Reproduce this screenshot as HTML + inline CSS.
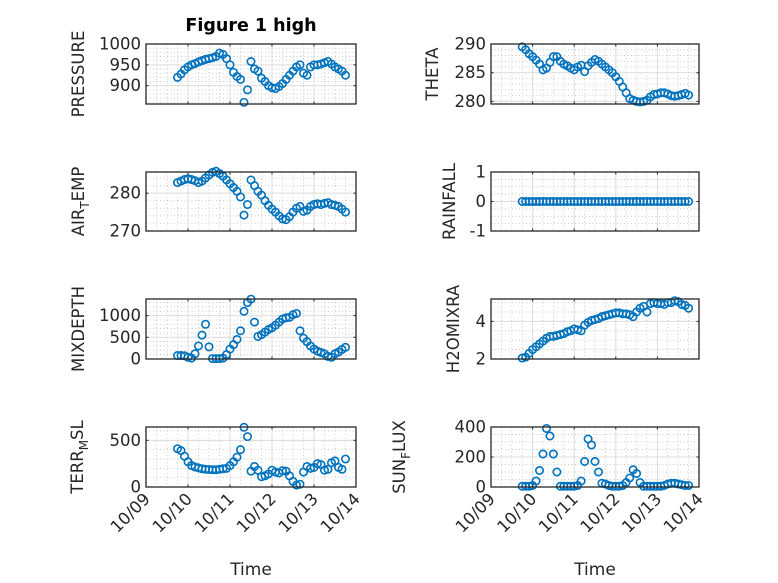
<!DOCTYPE html>
<html><head><meta charset="utf-8">
<style>
html,body{margin:0;padding:0;background:#fff;}
svg{display:block;font-family:"DejaVu Sans","Liberation Sans",sans-serif;}
</style></head>
<body>
<svg id="fig" width="778" height="583" viewBox="0 0 778 583" xmlns="http://www.w3.org/2000/svg">
<rect width="778" height="583" fill="#fff"/>
<text x="251" y="31" text-anchor="middle" font-size="17.5" font-weight="bold" fill="#000">Figure 1 high</text>
</svg>
<script>
// shared time axis: days since 10/09 00:00, 2-hour samples
const startDay = 0.75;
const stepDay = 2/24;
const xTickLabels = ["10/09","10/10","10/11","10/12","10/13","10/14"];

const pressure = [920,928,938,945,950,953,957,960,963,965,967,970,978,975,965,950,932,922,915,860,890,958,940,935,918,910,900,895,893,898,905,915,925,935,945,950,930,925,945,950,950,952,955,958,952,945,940,935,925];
const theta = [289.5,289,288.3,287.8,287.2,286.5,285.5,285.8,286.8,287.8,287.8,287,286.5,286.2,285.8,285.5,286,286.3,285.2,286.2,286.8,287.3,287,286.5,286,285.5,285,284.3,283.5,282.5,281.5,280.5,280.2,280,279.9,280,280.2,280.8,281.2,281.3,281.5,281.5,281.3,281,280.9,281,281.2,281.4,281.1];
const airTemp = [282.8,283.2,283.6,283.8,283.6,283.3,282.8,283.2,284,284.8,285.5,285.8,285.2,284.5,283.5,282.5,281.5,280.5,279,274.2,277,283.5,282,280.5,279.5,278,276.8,275.8,275,274,273.2,273,273.8,275,276,276.5,275.2,275.5,276.5,277,277.2,277,277.3,277.5,277,276.8,276.5,275.8,275];
const rainfall = [0,0,0,0,0,0,0,0,0,0,0,0,0,0,0,0,0,0,0,0,0,0,0,0,0,0,0,0,0,0,0,0,0,0,0,0,0,0,0,0,0,0,0,0,0,0,0,0,0];
const mixDepth = [80,80,75,40,20,120,300,550,800,280,10,10,10,20,100,230,330,450,650,1100,1300,1380,850,520,560,620,680,720,780,850,920,950,960,1020,1050,650,480,400,300,230,180,150,120,60,40,120,160,220,270];
const h2oMix = [2.05,2.1,2.3,2.5,2.65,2.8,2.95,3.1,3.2,3.2,3.25,3.3,3.35,3.45,3.5,3.6,3.55,3.5,3.8,3.95,4.05,4.1,4.15,4.25,4.3,4.35,4.4,4.45,4.45,4.4,4.4,4.35,4.25,4.5,4.7,4.8,4.5,4.95,5.0,4.95,4.95,4.9,5.0,5.0,5.1,5.05,4.9,4.85,4.7];
const terrMsl = [410,390,330,270,230,215,205,195,190,188,185,185,190,195,200,230,270,320,400,640,540,170,220,180,110,120,140,180,160,150,175,170,120,60,20,30,160,220,200,210,250,240,180,190,260,280,210,190,300];
const sunFlux = [5,5,5,10,40,110,220,390,340,220,100,5,5,5,5,5,10,40,170,320,280,170,100,25,20,10,5,5,5,10,30,60,115,90,30,5,5,5,5,5,5,10,20,25,25,20,15,10,10];

const pressureTicks = [900,950,1000];
const thetaTicks = [280,285,290];
const airTicks = [270,280];
const rainTicks = [-1,0,1];
const mixTicks = [0,500,1000];
const h2oTicks = [2,4];
const terrTicks = [0,500];
const sunTicks = [0,200,400];

const NS = "http://www.w3.org/2000/svg";
const svg = document.getElementById("fig");
function mk(tag, attrs, parent){
  const e = document.createElementNS(NS, tag);
  for (const k in attrs) e.setAttribute(k, attrs[k]);
  (parent||svg).appendChild(e);
  return e;
}

const panels = [
 {name:"pressure", data:pressure, ticks:pressureTicks, ymin:856, ymax:1000, minor:10, x0:146, x1:356, y0:44, y1:104, label:["PRESSURE"], lx:84, showX:false},
 {name:"theta", data:theta, ticks:thetaTicks, ymin:279.55, ymax:290, minor:1, x0:491, x1:699, y0:44, y1:104, label:["THETA"], lx:438, showX:false},
 {name:"air-temp", data:airTemp, ticks:airTicks, ymin:270, ymax:285.6, minor:2, x0:146, x1:356, y0:172, y1:231, label:["AIR","T","EMP"], lx:84, showX:false},
 {name:"rainfall", data:rainfall, ticks:rainTicks, ymin:-1, ymax:1, minor:0.25, x0:491, x1:699, y0:172, y1:231, label:["RAINFALL"], lx:455, showX:false},
 {name:"mixdepth", data:mixDepth, ticks:mixTicks, ymin:0, ymax:1383, minor:100, x0:146, x1:356, y0:299, y1:359, label:["MIXDEPTH"], lx:84, showX:false},
 {name:"h2omixra", data:h2oMix, ticks:h2oTicks, ymin:2, ymax:5.19, minor:0.5, x0:491, x1:699, y0:299, y1:359, label:["H2OMIXRA"], lx:459, showX:false},
 {name:"terr-msl", data:terrMsl, ticks:terrTicks, ymin:0, ymax:643, minor:100, x0:146, x1:356, y0:427, y1:487, label:["TERR","M","SL"], lx:83, showX:true},
 {name:"sun-flux", data:sunFlux, ticks:sunTicks, ymin:0, ymax:400, minor:50, x0:491, x1:699, y0:427, y1:487, label:["SUN","F","LUX"], lx:405, showX:true}
];

panels.forEach(p=>{
  const g = mk("g",{});
  
  
  const xs = d => p.x0 + (d/5)*(p.x1-p.x0);
  const ys = v => p.y1 - (v-p.ymin)/(p.ymax-p.ymin)*(p.y1-p.y0);
  for (let d=0.25; d<5; d+=0.25){
    if (Math.abs(d-Math.round(d))<1e-6) continue;
    mk("line",{x1:xs(d),x2:xs(d),y1:p.y0,y2:p.y1,stroke:"#b8b8b8","stroke-width":0.7,"stroke-dasharray":"1 2.5"},g);
  }
  const mstart = Math.ceil(p.ymin/p.minor)*p.minor;
  for (let v=mstart; v<=p.ymax+1e-9; v+=p.minor){
    if (p.ticks.some(t=>Math.abs(t-v)<1e-6)) continue;
    mk("line",{x1:p.x0,x2:p.x1,y1:ys(v),y2:ys(v),stroke:"#b8b8b8","stroke-width":0.7,"stroke-dasharray":"1 2.5"},g);
  }
  for (let d=1; d<5; d++) mk("line",{x1:xs(d),x2:xs(d),y1:p.y0,y2:p.y1,stroke:"#dcdcdc","stroke-width":1},g);
  p.ticks.forEach(t=>{ mk("line",{x1:p.x0,x2:p.x1,y1:ys(t),y2:ys(t),stroke:"#dcdcdc","stroke-width":1},g); });
  p.data.forEach((v,i)=>{
    const c = mk("circle",{cx:xs(startDay+i*stepDay).toFixed(2),cy:ys(v).toFixed(2),r:3.7,fill:"none",stroke:"#0072BD","stroke-width":1.6},g);
    
    
  });
  const box = mk("rect",{x:p.x0,y:p.y0,width:p.x1-p.x0,height:p.y1-p.y0,fill:"none",stroke:"#262626","stroke-width":1.3},g);
  
  
  for (let d=0; d<=5; d++){
    mk("line",{x1:xs(d),x2:xs(d),y1:p.y1,y2:p.y1-2.5,stroke:"#262626","stroke-width":1},g);
    mk("line",{x1:xs(d),x2:xs(d),y1:p.y0,y2:p.y0+2.5,stroke:"#262626","stroke-width":1},g);
  }
  p.ticks.forEach(t=>{
    mk("line",{x1:p.x0,x2:p.x0+2.5,y1:ys(t),y2:ys(t),stroke:"#262626","stroke-width":1},g);
    mk("line",{x1:p.x1,x2:p.x1-2.5,y1:ys(t),y2:ys(t),stroke:"#262626","stroke-width":1},g);
    const tl = mk("text",{x:p.x0-5,y:ys(t)+5.5,"text-anchor":"end","font-size":16.5,fill:"#262626"},g);
    tl.textContent = String(t);
    
    
  });
  const cy = (p.y0+p.y1)/2;
  const yl = mk("text",{x:p.lx,y:cy,"text-anchor":"middle","font-size":16.5,fill:"#262626",transform:`rotate(-90 ${p.lx} ${cy})`},g);
  
  
  if (p.label.length===1){ yl.textContent = p.label[0]; }
  else {
    const a = mk("tspan",{},yl); a.textContent = p.label[0];
    const b = mk("tspan",{"font-size":12,dy:5},yl); b.textContent = p.label[1];
    const c = mk("tspan",{dy:-5},yl); c.textContent = p.label[2];
  }
  if (p.showX){
    xTickLabels.forEach((lab,d)=>{
      const tx = xs(d)+5, ty = p.y1+13;
      const t = mk("text",{x:tx,y:ty,"text-anchor":"end","font-size":16.5,fill:"#262626",transform:`rotate(-45 ${tx} ${ty})`},g);
      t.textContent = lab;
      
      
    });
    const xt = mk("text",{x:(p.x0+p.x1)/2,y:575,"text-anchor":"middle","font-size":17,fill:"#262626"},g);
    xt.textContent = "Time";
    
    
  }
});
</script>
</body></html>
